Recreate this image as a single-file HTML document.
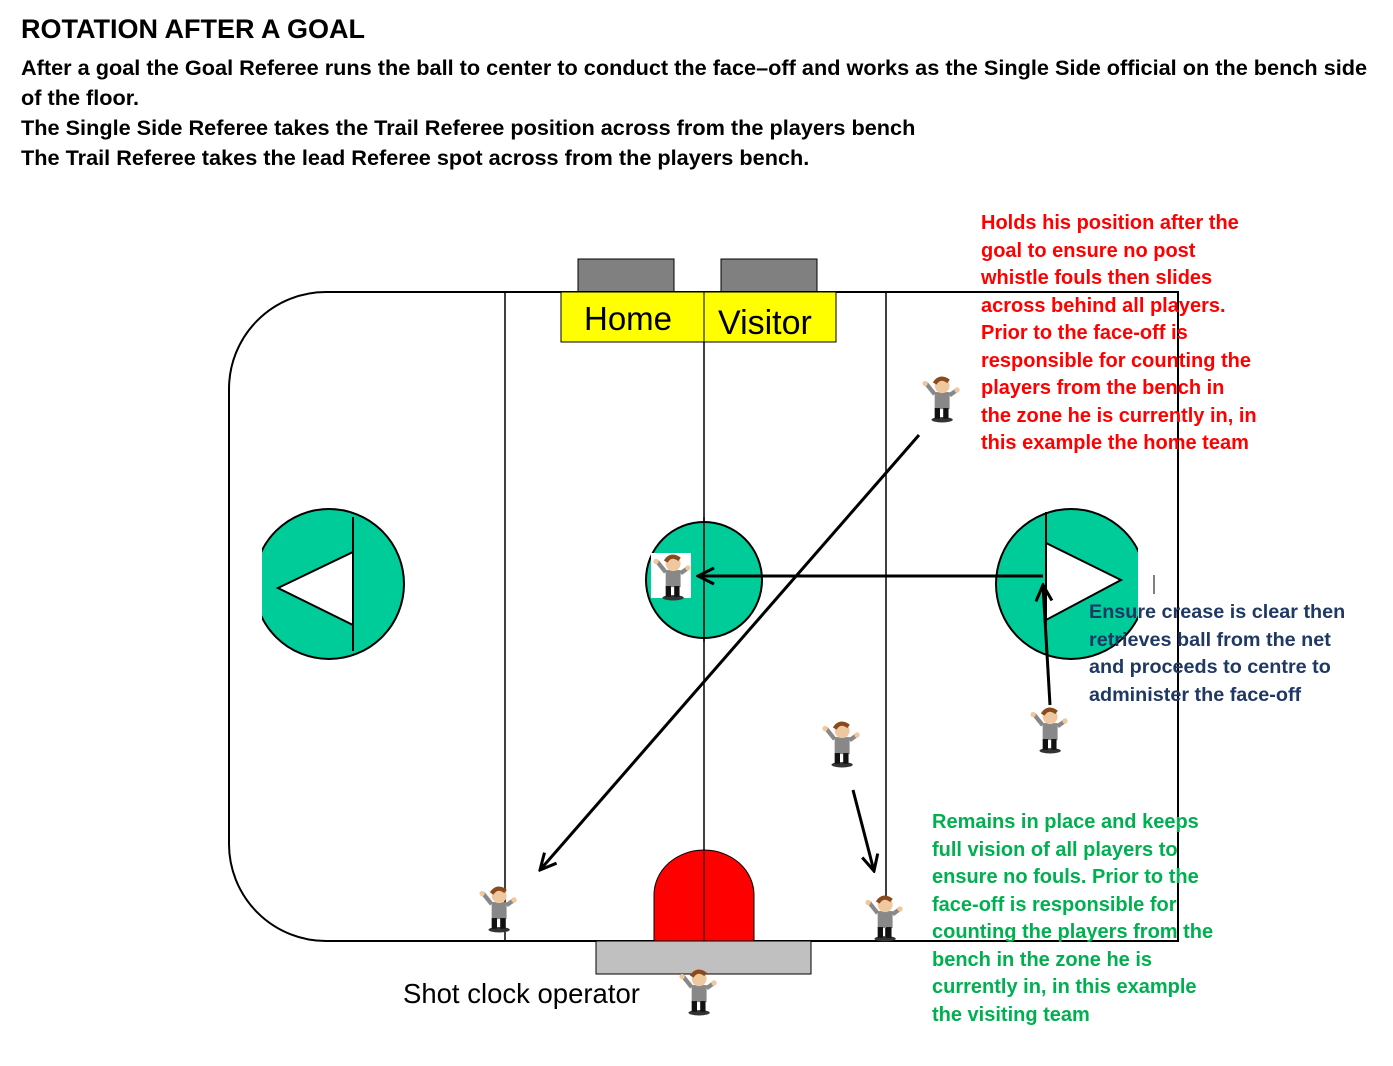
<!DOCTYPE html>
<html><head><style>
body{margin:0;width:1393px;height:1066px;background:#fff;font-family:"Liberation Sans",sans-serif;position:relative;overflow:hidden}
.t{position:absolute;font-weight:bold;white-space:nowrap}
</style></head><body>
<div class="t" style="left:21px;top:14px;font-size:27px">ROTATION AFTER A GOAL</div>
<div class="t" style="left:21px;top:53px;font-size:21.7px;line-height:30px">After a goal the Goal Referee runs the ball to center to conduct the face–off and works as the Single Side official on the bench side<br>of the floor.<br>The Single Side Referee takes the Trail Referee position across from the players bench<br>The Trail Referee takes the lead Referee spot across from the players bench.</div>
<svg width="1393" height="1066" style="position:absolute;left:0;top:0">
<defs>
<marker id="b" markerWidth="20" markerHeight="20" refX="18" refY="10" orient="auto" markerUnits="userSpaceOnUse"><path d="M2,2 L18,10 L2,18" fill="none" stroke="#000" stroke-width="3"/></marker>
<symbol id="r" viewBox="0 0 36 45"><ellipse cx="20" cy="42" rx="10" ry="2.5" fill="#333"/><rect x="13" y="16" width="14" height="16" fill="#888"/><rect x="13" y="31" width="5" height="10" fill="#111"/><rect x="21" y="31" width="5" height="10" fill="#111"/><path d="M13,18 L5,8" stroke="#888" stroke-width="4"/><path d="M27,19 L34,14" stroke="#888" stroke-width="4"/><circle cx="20" cy="10" r="7" fill="#f0c8a0"/><path d="M13,8 Q18,0 26,6" stroke="#8b4a1c" stroke-width="4" fill="none"/><circle cx="4" cy="8" r="2.5" fill="#f0c8a0"/><circle cx="34" cy="14" r="2.5" fill="#f0c8a0"/></symbol>
</defs>
<rect x="578" y="259" width="96" height="33" fill="#808080" stroke="#000"/>
<rect x="721" y="259" width="96" height="33" fill="#808080" stroke="#000"/>
<path d="M326,292 H1178 V941 H326 A97,97 0 0 1 229,844 V389 A97,97 0 0 1 326,292Z" fill="none" stroke="#000" stroke-width="2"/>
<line x1="505" y1="292" x2="505" y2="941" stroke="#000" stroke-width="1.5"/>
<line x1="704" y1="292" x2="704" y2="941" stroke="#000" stroke-width="1.5"/>
<line x1="886" y1="292" x2="886" y2="941" stroke="#000" stroke-width="1.5"/>
<rect x="561" y="292" width="275" height="50" fill="#ffff00" stroke="#000"/>
<line x1="704" y1="292" x2="704" y2="342" stroke="#000"/>
<text x="584" y="330" font-size="33" font-family="Liberation Sans">Home</text>
<text x="718" y="334" font-size="34" font-family="Liberation Sans">Visitor</text>
<clipPath id="cl"><rect x="262" y="500" width="200" height="200"/></clipPath>
<clipPath id="cr"><rect x="980" y="500" width="158" height="200"/></clipPath>
<circle cx="329" cy="584" r="75" fill="#00cc99" stroke="#000" stroke-width="2" clip-path="url(#cl)"/>
<line x1="353" y1="517" x2="353" y2="651" stroke="#000" stroke-width="2"/>
<polygon points="278,588 353,552 353,625" fill="#fff" stroke="#000" stroke-width="2"/>
<circle cx="1071" cy="584" r="75" fill="#00cc99" stroke="#000" stroke-width="2" clip-path="url(#cr)"/>
<line x1="1046" y1="512" x2="1046" y2="651" stroke="#000" stroke-width="2"/>
<polygon points="1046,543 1046,620 1121,580" fill="#fff" stroke="#000" stroke-width="2"/>
<line x1="1154" y1="575" x2="1154" y2="594" stroke="#000"/>
<circle cx="704" cy="580" r="58" fill="#00cc99" stroke="#000" stroke-width="2"/>
<line x1="704" y1="517" x2="704" y2="642" stroke="#000" stroke-width="1.5"/>
<path d="M654,941 V895 A50,45 0 0 1 754,895 V941Z" fill="#ff0000" stroke="#000"/>
<line x1="704" y1="850" x2="704" y2="941" stroke="#000"/>
<rect x="596" y="941" width="215" height="33" fill="#c0c0c0" stroke="#000"/>
<text x="403" y="1003" font-size="27.5" font-family="Liberation Sans">Shot clock operator</text>
<rect x="651" y="553" width="40" height="45" fill="#fff"/>
<line x1="919" y1="435" x2="540" y2="870" stroke="#000" stroke-width="3" marker-end="url(#b)"/>
<line x1="1043" y1="576" x2="698" y2="576" stroke="#000" stroke-width="3" marker-end="url(#b)"/>
<line x1="1050" y1="705" x2="1043" y2="585" stroke="#000" stroke-width="3" marker-end="url(#b)"/>
<line x1="853" y1="790" x2="874" y2="871" stroke="#000" stroke-width="3" marker-end="url(#b)"/>
<use href="#r" x="920" y="375" width="40" height="48"/>
<use href="#r" x="651" y="553" width="40" height="48"/>
<use href="#r" x="820" y="720" width="40" height="48"/>
<use href="#r" x="1028" y="706" width="40" height="48"/>
<use href="#r" x="477" y="885" width="40" height="48"/>
<use href="#r" x="863" y="894" width="40" height="48"/>
<use href="#r" x="677" y="968" width="40" height="48"/>
</svg>
<div class="t" style="left:981px;top:210px;font-size:20px;line-height:27.5px;color:#ff0000">Holds his position after the<br>goal to ensure no post<br>whistle fouls then slides<br>across behind all players.<br>Prior to the face-off is<br>responsible for counting the<br>players from the bench in<br>the zone he is currently in, in<br>this example the home team</div>
<div class="t" style="left:1089px;top:599px;font-size:19.8px;line-height:27.5px;color:#1f3864">Ensure crease is clear then<br>retrieves ball from the net<br>and proceeds to centre to<br>administer the face-off</div>
<div class="t" style="left:932px;top:809px;font-size:20px;line-height:27.5px;color:#00b050">Remains in place and keeps<br>full vision of all players to<br>ensure no fouls. Prior to the<br>face-off is responsible for<br>counting the players from the<br>bench in the zone he is<br>currently in, in this example<br>the visiting team</div>
</body></html>
